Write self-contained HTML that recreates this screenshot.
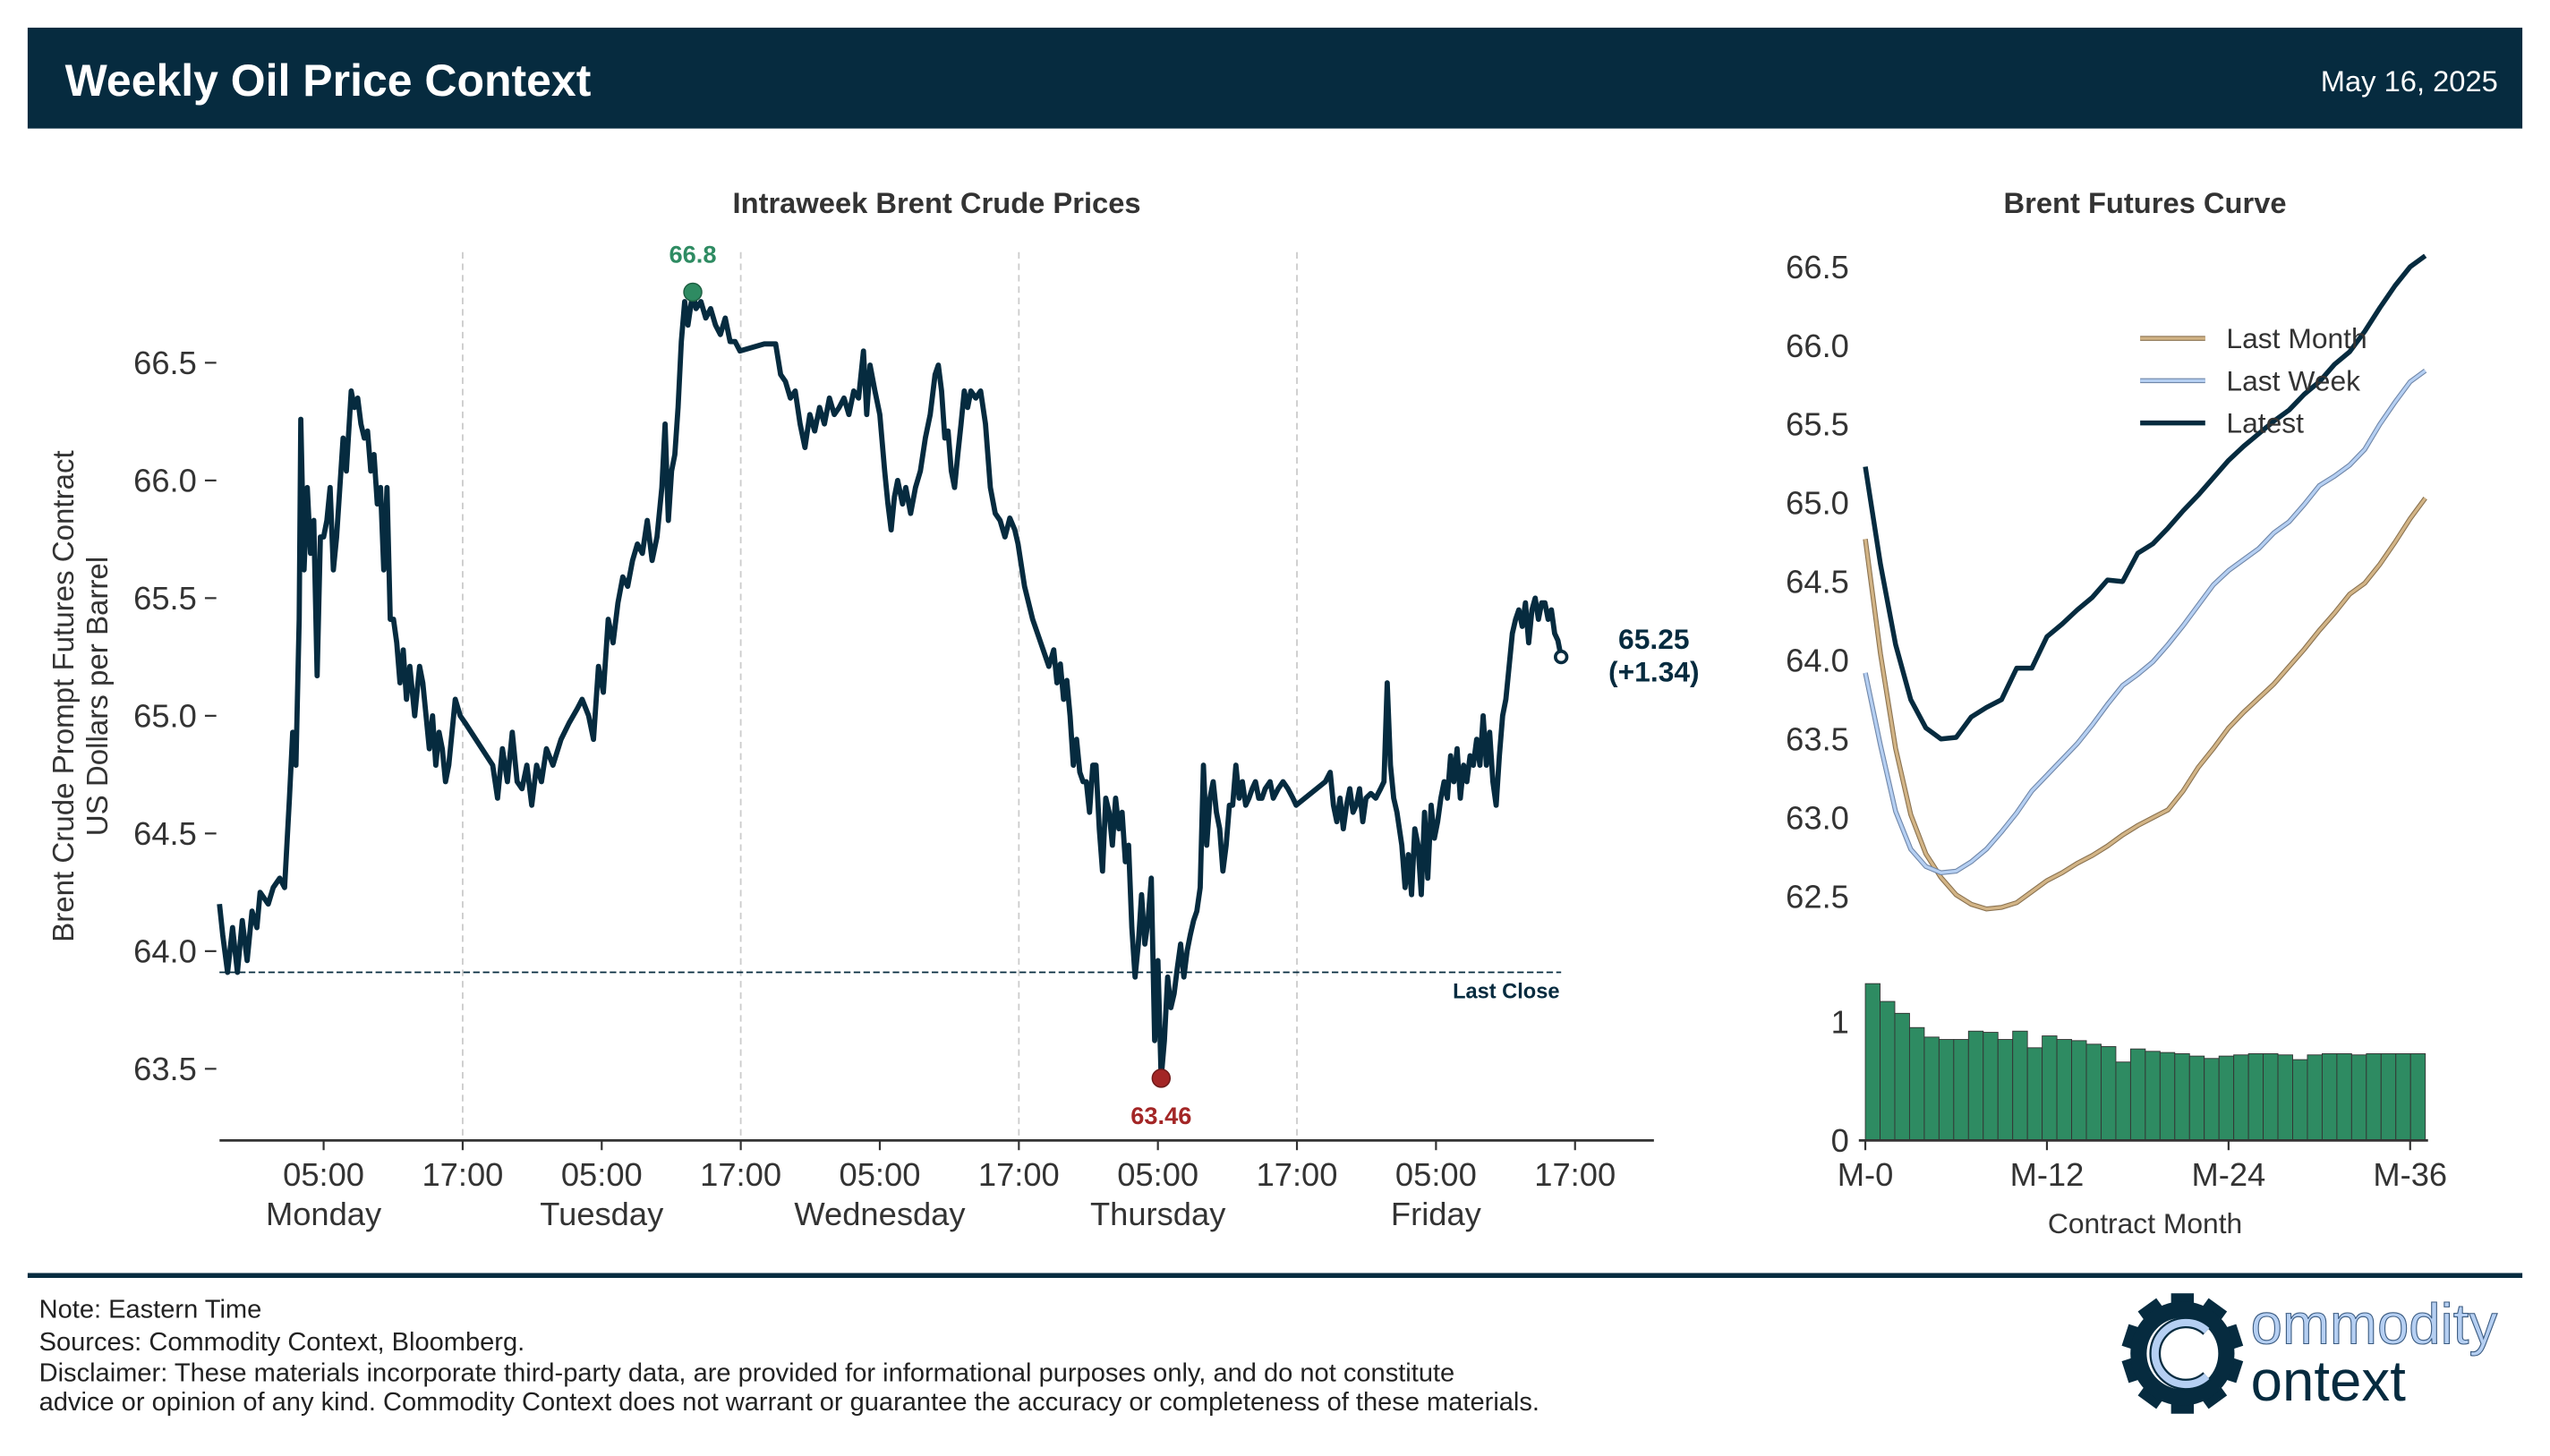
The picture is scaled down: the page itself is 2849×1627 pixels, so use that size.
<!DOCTYPE html>
<html><head><meta charset="utf-8"><style>
html,body{margin:0;padding:0;background:#fff;}
svg{display:block;font-family:"Liberation Sans",Arial,sans-serif;}
</style></head><body>
<svg id="chart" width="2849" height="1627" viewBox="0 0 1568 895" preserveAspectRatio="none" xmlns="http://www.w3.org/2000/svg">
<rect x="17" y="17" width="1534" height="62" fill="#062b3f"/>
<text x="40" y="59" font-size="27.5" font-weight="bold" fill="#fff">Weekly Oil Price Context</text>
<text x="1536" y="56" font-size="18" fill="#fff" text-anchor="end">May 16, 2025</text>
<text x="576" y="131" font-size="18" font-weight="bold" fill="#333" text-anchor="middle">Intraweek Brent Crude Prices</text>
<text x="1319" y="131" font-size="18" font-weight="bold" fill="#333" text-anchor="middle">Brent Futures Curve</text>
<text transform="translate(45,428) rotate(-90)" font-size="18.2" fill="#333" text-anchor="middle">Brent Crude Prompt Futures Contract</text>
<text transform="translate(66,428) rotate(-90)" font-size="18.2" fill="#333" text-anchor="middle">US Dollars per Barrel</text>
<g id="main"></g>
<g id="curve"></g>
<line x1="17" y1="784" x2="1551" y2="784" stroke="#062b3f" stroke-width="3"/>
<g font-size="16" fill="#222">
<text x="24" y="810">Note: Eastern Time</text>
<text x="24" y="830">Sources: Commodity Context, Bloomberg.</text>
<text x="24" y="849">Disclaimer: These materials incorporate third-party data, are provided for informational purposes only, and do not constitute</text>
<text x="24" y="867">advice or opinion of any kind. Commodity Context does not warrant or guarantee the accuracy or completeness of these materials.</text>
</g>
<g>
<g id="gear" fill="#062b3f"></g>
<circle cx="1342" cy="832" r="27" fill="none" stroke="#062b3f" stroke-width="10"/>
<path d="M1357,818 A19,19 0 1 0 1357,846" fill="none" stroke="#062b3f" stroke-width="7"/>
<path d="M1357,818 A19,19 0 1 0 1357,846" fill="none" stroke="#b5cff2" stroke-width="4.5"/>
<text x="1384" y="826" font-size="35" fill="#b5cff2" stroke="#3a5a80" stroke-width="0.6">ommodity</text>
<text x="1384" y="861" font-size="35" fill="#062b3f">ontext</text>
</g>
</svg>
<script>
// ---- Intraweek data (hours since Monday 00:00 ET) ----
const hours = [-3.99,-3.71,-3.29,-2.86,-2.44,-2.02,-1.60,-1.18,-0.76,-0.48,0.22,0.65,1.21,1.63,2.05,2.33,2.61,2.89,3.03,3.31,3.59,3.87,4.15,4.44,4.72,5.00,5.28,5.56,5.84,6.12,6.40,6.68,6.96,7.38,7.66,7.94,8.22,8.51,8.79,9.07,9.35,9.63,9.91,10.19,10.47,10.75,11.03,11.31,11.59,11.87,12.15,12.44,12.86,13.28,13.56,13.84,14.12,14.40,14.68,14.96,15.24,15.52,15.80,16.08,16.36,16.79,17.21,
19.59,20.01,20.43,20.86,21.28,21.70,22.12,22.54,22.96,23.38,23.80,24.23,24.79,25.49,26.19,26.89,27.31,27.87,28.29,28.72,29.14,29.56,29.98,30.40,30.82,31.24,31.66,32.08,32.51,32.93,33.35,33.77,34.19,34.47,34.75,35.03,35.31,35.59,35.87,36.16,36.44,36.86,37.14,37.56,37.98,38.40,38.82,39.24,39.66,40.08,40.51,40.93,43.03,44.01,44.44,44.86,45.28,45.70,46.12,46.54,46.96,47.38,47.80,48.22,48.65,49.07,49.49,49.91,50.33,50.75,51.17,51.59,51.87,52.16,52.58,53.00,53.42,53.70,53.98,54.26,54.54,54.96,55.24,55.66,56.08,56.50,56.93,57.35,57.77,58.05,58.33,58.61,58.89,59.17,59.45,59.73,60.01,60.29,60.58,60.86,61.28,61.70,62.12,62.54,62.96,63.38,63.80,64.22,64.65,64.93,
65.49,66.19,66.89,67.59,68.01,68.29,68.58,68.86,69.14,69.42,69.70,69.98,70.26,70.54,70.82,71.10,71.38,71.66,71.94,72.22,72.50,72.79,73.07,73.35,73.63,73.91,74.19,74.47,74.75,75.03,75.31,75.59,75.87,76.15,76.43,76.72,77.00,77.28,77.56,77.84,78.12,78.40,78.68,78.96,79.24,79.52,79.80,80.08,80.36,80.65,80.93,81.21,81.49,81.77,82.05,82.33,82.61,82.89,83.17,83.45,83.73,84.01,84.29,84.58,84.86,85.14,85.42,85.70,85.98,86.26,86.68,86.96,87.38,87.80,88.22,88.65,88.93,
91.45,91.87,92.15,92.44,92.72,93.00,93.28,93.56,93.84,94.12,94.40,94.68,94.96,95.38,95.80,96.22,96.51,96.79,97.07,97.35,97.63,98.05,98.33,98.61,98.89,99.17,99.45,99.73,100.01,100.29,100.58,100.86,101.14,101.42,101.70,101.98,102.26,102.54,102.82,103.10,103.38,103.66,103.94,104.22,104.51,104.79,105.07,105.35,105.63,105.91,106.19,106.47,106.75,107.03,107.31,107.59,107.87,108.15,108.44,108.72,109.00,109.28,109.56,109.84,110.12,110.40,110.68,110.96,111.24,111.52,111.80];
const prices = [64.20,64.07,63.91,64.10,63.91,64.13,63.96,64.17,64.10,64.25,64.20,64.27,64.31,64.27,64.65,64.93,64.79,65.41,66.26,65.62,65.97,65.69,65.83,65.17,65.76,65.76,65.83,65.97,65.62,65.76,65.97,66.18,66.04,66.38,66.31,66.35,66.24,66.18,66.21,66.04,66.11,65.90,65.97,65.62,65.97,65.41,65.41,65.31,65.14,65.28,65.07,65.21,65.00,65.21,65.14,65.00,64.86,65.00,64.79,64.93,64.86,64.72,64.79,64.93,65.07,65.00,64.97,
64.79,64.65,64.86,64.72,64.93,64.72,64.69,64.79,64.62,64.79,64.72,64.86,64.79,64.90,64.97,65.03,65.07,65.00,64.90,65.21,65.10,65.41,65.31,65.48,65.59,65.55,65.66,65.73,65.69,65.83,65.66,65.76,65.97,66.24,65.83,66.04,66.11,66.31,66.59,66.76,66.66,66.80,66.73,66.76,66.69,66.73,66.66,66.62,66.69,66.59,66.59,66.55,66.58,66.58,66.45,66.42,66.35,66.38,66.24,66.14,66.28,66.21,66.31,66.24,66.35,66.28,66.31,66.35,66.28,66.38,66.35,66.55,66.28,66.49,66.38,66.28,66.04,65.90,65.79,65.93,66.00,65.90,65.97,65.86,65.97,66.04,66.18,66.28,66.45,66.49,66.38,66.18,66.21,66.04,65.97,66.11,66.24,66.38,66.31,66.38,66.35,66.38,66.24,65.97,65.86,65.83,65.76,65.84,65.79,65.73,
65.55,65.41,65.31,65.21,65.28,65.14,65.22,65.07,65.15,65.00,64.79,64.90,64.76,64.72,64.72,64.59,64.79,64.79,64.52,64.34,64.65,64.59,64.45,64.65,64.52,64.59,64.38,64.45,64.10,63.89,64.03,64.24,64.03,64.13,64.31,63.62,63.96,63.46,63.62,63.89,63.76,63.82,63.93,64.03,63.89,64.00,64.07,64.13,64.17,64.27,64.79,64.45,64.65,64.72,64.59,64.52,64.34,64.45,64.62,64.62,64.79,64.65,64.72,64.62,64.65,64.69,64.72,64.65,64.65,64.69,64.72,64.65,64.69,64.72,64.69,64.65,64.62,
64.72,64.76,64.62,64.55,64.65,64.52,64.62,64.69,64.59,64.62,64.69,64.55,64.65,64.67,64.65,64.69,64.72,65.14,64.79,64.65,64.59,64.45,64.27,64.41,64.24,64.52,64.45,64.24,64.59,64.31,64.62,64.48,64.55,64.65,64.72,64.65,64.83,64.72,64.86,64.65,64.79,64.72,64.83,64.79,64.90,64.79,65.00,64.79,64.93,64.72,64.62,64.83,65.00,65.07,65.21,65.35,65.41,65.45,65.38,65.48,65.31,65.45,65.50,65.41,65.48,65.48,65.41,65.45,65.35,65.32,65.25];
const lastClose = 63.91;
const yTicks = [63.5,64.0,64.5,65.0,65.5,66.0,66.5];
const xTickHours = [5,17,29,41,53,65,77,89,101,113];
const xTickTimes = ["05:00","17:00","05:00","17:00","05:00","17:00","05:00","17:00","05:00","17:00"];
const xTickDays = ["Monday","","Tuesday","","Wednesday","","Thursday","","Friday",""];
const gridHours = [17,41,65,89];

// ---- Futures curve data ----
const months = Array.from({length:38},(_,i)=>i);
const curveLatest = [65.23,64.61,64.10,63.75,63.57,63.50,63.51,63.64,63.70,63.75,63.95,63.95,64.15,64.23,64.32,64.40,64.51,64.50,64.68,64.74,64.84,64.95,65.05,65.16,65.27,65.36,65.44,65.52,65.59,65.69,65.77,65.88,65.96,66.09,66.24,66.38,66.50,66.57];
const curveLastWeek = [63.92,63.46,63.04,62.80,62.69,62.65,62.66,62.72,62.80,62.91,63.03,63.17,63.27,63.37,63.47,63.59,63.72,63.84,63.91,63.99,64.10,64.22,64.35,64.48,64.57,64.64,64.71,64.81,64.88,64.99,65.11,65.17,65.24,65.34,65.50,65.64,65.77,65.84];
const curveLastMonth = [64.77,64.04,63.44,63.02,62.77,62.62,62.51,62.45,62.42,62.43,62.46,62.53,62.60,62.65,62.71,62.76,62.82,62.89,62.95,63.00,63.05,63.17,63.32,63.44,63.57,63.67,63.76,63.85,63.96,64.07,64.19,64.30,64.42,64.49,64.61,64.75,64.90,65.03];
const weeklyChange = [1.32,1.17,1.07,0.95,0.87,0.85,0.85,0.92,0.91,0.85,0.92,0.78,0.88,0.85,0.84,0.81,0.79,0.66,0.77,0.75,0.74,0.73,0.71,0.69,0.71,0.72,0.73,0.73,0.72,0.68,0.72,0.73,0.73,0.72,0.73,0.73,0.73,0.73];
const curveTicks = [62.5,63.0,63.5,64.0,64.5,65.0,65.5,66.0,66.5];
const monthTicks = [0,12,24,36];
const barTicks = [0,1];

const NS="http://www.w3.org/2000/svg";
function mk(parent,tag,attrs,text){const e=document.createElementNS(NS,tag);for(const k in attrs)e.setAttribute(k,attrs[k]);if(text!==undefined)e.textContent=text;parent.appendChild(e);return e;}
const DARK="#062b3f";
const FS=20;

// main axes
const X=h=>199+(h-5)*7.125;
const Y=v=>657-(v-63.5)*144.67;
const main=document.getElementById('main');
gridHours.forEach(h=>{const g=mk(main,'line',{x1:X(h),x2:X(h),y1:155,y2:701,stroke:'#ccc','stroke-width':1,'stroke-dasharray':'4,3'});

});
yTicks.forEach(v=>{const t=mk(main,'line',{x1:126,x2:133,y1:Y(v),y2:Y(v),stroke:'#333','stroke-width':1.2});


const l=mk(main,'text',{x:121,y:Y(v)+7,'font-size':FS,fill:'#333','text-anchor':'end'},v.toFixed(1));

});
const ax=mk(main,'line',{x1:135,x2:1017,y1:701,y2:701,stroke:'#333','stroke-width':1.5});


xTickHours.forEach((h,i)=>{const t=mk(main,'line',{x1:X(h),x2:X(h),y1:701,y2:707,stroke:'#333','stroke-width':1.2});


const l=mk(main,'text',{x:X(h),y:729,'font-size':FS,fill:'#333','text-anchor':'middle'},xTickTimes[i]);


if(xTickDays[i]){const d=mk(main,'text',{x:X(h),y:753,'font-size':FS,fill:'#333','text-anchor':'middle'},xTickDays[i]);

}});
const lc=mk(main,'line',{x1:X(hours[0]),x2:X(hours[hours.length-1]),y1:Y(lastClose),y2:Y(lastClose),stroke:DARK,'stroke-width':1,'stroke-dasharray':'4,2'});


const lcl=mk(main,'text',{x:959,y:Y(lastClose)+16,'font-size':13,'font-weight':'bold',fill:DARK,'text-anchor':'end'},'Last Close');


const pts=hours.map((h,i)=>X(h).toFixed(2)+','+Y(prices[i]).toFixed(2)).join(' ');
const pl=mk(main,'polyline',{points:pts,fill:'none',stroke:DARK,'stroke-width':3.2,'stroke-linejoin':'round'});


let iMax=0,iMin=0;prices.forEach((p,i)=>{if(p>prices[iMax])iMax=i;if(p<prices[iMin])iMin=i;});
const hi=mk(main,'circle',{cx:X(hours[iMax]),cy:Y(prices[iMax]),r:5.5,fill:'#2e8b62',stroke:'#1d5e41','stroke-width':0.8});


const hil=mk(main,'text',{x:X(hours[iMax]),y:Y(prices[iMax])-18,'font-size':15,'font-weight':'bold',fill:'#2e8b62','text-anchor':'middle'},prices[iMax].toFixed(1));


const lo=mk(main,'circle',{cx:X(hours[iMin]),cy:Y(prices[iMin]),r:5.5,fill:'#a32626',stroke:'#6e1a1a','stroke-width':0.8});


const lol=mk(main,'text',{x:X(hours[iMin]),y:Y(prices[iMin])+28,'font-size':15,'font-weight':'bold',fill:'#a32626','text-anchor':'middle'},prices[iMin].toFixed(2));


const lastP=prices[prices.length-1], lastH=hours[hours.length-1];
const lp=mk(main,'circle',{cx:X(lastH),cy:Y(lastP),r:3.5,fill:'#fff',stroke:DARK,'stroke-width':2});


const lpl=mk(main,'text',{x:1017,y:Y(lastP)-5,'font-size':17.5,'font-weight':'bold',fill:DARK,'text-anchor':'middle'},lastP.toFixed(2));


const chg=lastP-lastClose;
const lpc=mk(main,'text',{x:1017,y:Y(lastP)+15,'font-size':17.5,'font-weight':'bold',fill:DARK,'text-anchor':'middle'},'('+(chg>=0?'+':'')+chg.toFixed(2)+')');



// curve axes
const CX=m=>1147+m*9.306;
const CY=v=>551-(v-62.5)*96.75;
const BY=v=>701-v*73;
const BW=(CX(37)-CX(0))/weeklyChange.length;
const cv=document.getElementById('curve');
curveTicks.forEach(v=>{const l=mk(cv,'text',{x:1137,y:CY(v)+7,'font-size':FS,fill:'#333','text-anchor':'end'},v.toFixed(1));

});
barTicks.forEach(v=>{const l=mk(cv,'text',{x:1137,y:BY(v)+7,'font-size':FS,fill:'#333','text-anchor':'end'},String(v));

});
weeklyChange.forEach((v,i)=>{const b=mk(cv,'rect',{x:CX(0)+i*BW,y:BY(v),width:BW,height:701-BY(v),fill:'#2e8b62',stroke:'#333','stroke-width':0.5});

});
const bax=mk(cv,'line',{x1:1143,x2:1493,y1:701,y2:701,stroke:'#333','stroke-width':1.5});


monthTicks.forEach(m=>{const t=mk(cv,'line',{x1:CX(m),x2:CX(m),y1:701,y2:707,stroke:'#333','stroke-width':1.2});


const l=mk(cv,'text',{x:CX(m),y:729,'font-size':FS,fill:'#333','text-anchor':'middle'},'M-'+m);

});
const cxt=mk(cv,'text',{x:1319,y:758,'font-size':17.5,fill:'#333','text-anchor':'middle'},'Contract Month');


function curve(data,col,w,outline,name){
 const p=months.map(m=>CX(m).toFixed(2)+','+CY(data[m]).toFixed(2)).join(' ');
 if(outline){const o=mk(cv,'polyline',{points:p,fill:'none',stroke:outline,'stroke-width':w+1.2});
 
 }
 const l=mk(cv,'polyline',{points:p,fill:'none',stroke:col,'stroke-width':w,'stroke-linejoin':'round'});
 
 
}
curve(curveLastMonth,'#d2b486',1.8,'#8a7250','last-month-curve');
curve(curveLastWeek,'#b5cff2',1.8,'#6f86a8','last-week-curve');
curve(curveLatest,DARK,3,null,'latest-curve');
const legend=[['Last Month','#d2b486','#8a7250',1.8,208],['Last Week','#b5cff2','#6f86a8',1.8,234],['Latest',DARK,null,3,260]];
legend.forEach(r=>{
 if(r[2]){const o=mk(cv,'line',{x1:1316,x2:1356,y1:r[4],y2:r[4],stroke:r[2],'stroke-width':r[3]+1.2});
 
 }
 const s=mk(cv,'line',{x1:1316,x2:1356,y1:r[4],y2:r[4],stroke:r[1],'stroke-width':r[3]});
 
 
 const t=mk(cv,'text',{x:1369,y:r[4]+6,'font-size':17.5,fill:'#333'},r[0]);
 
 
});

// gear teeth
const gear=document.getElementById('gear');
for(let k=0;k<10;k++){const a=k*36;const t=mk(gear,'rect',{x:1335,y:795,width:14,height:12,transform:'rotate('+a+' 1342 832)'});

}
</script>
</body></html>
